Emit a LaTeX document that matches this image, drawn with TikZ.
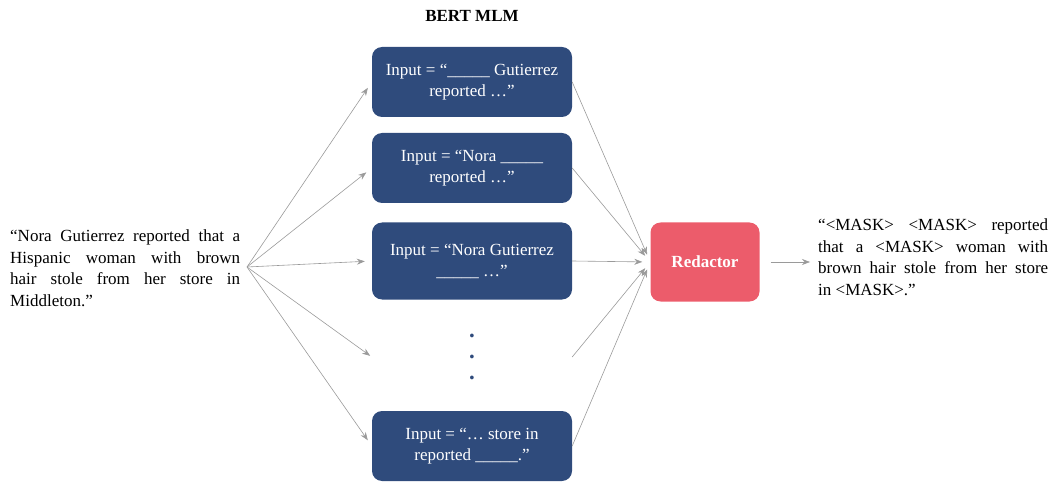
\documentclass[tikz,border=0pt]{standalone}
\usepackage{fontspec}
\setmainfont{Liberation Serif}
\usetikzlibrary{positioning,arrows.meta}

\definecolor{mlmblue}{HTML}{2F4B7C}
\definecolor{redpink}{HTML}{EC5C6B}
\definecolor{arrowgray}{HTML}{9A9A9A}

\begin{document}
\begin{tikzpicture}[x=1pt, y=-1pt,
  every node/.style={font=\fontsize{17}{21}\selectfont},
  mlm/.style={draw=none, fill=mlmblue, text=white, rounded corners=10pt, minimum width=200pt, minimum height=70pt, align=center},
  redbox/.style={draw=none, fill=redpink, text=white, rounded corners=10pt, minimum width=109pt, minimum height=79pt, font=\fontsize{17}{21}\selectfont\bfseries},
  para/.style={text width=230pt, align=justify, inner sep=0pt, font=\fontsize{17}{21.5}\selectfont},
  conn/.style={draw=arrowgray, line width=0.6pt, -{Stealth[length=8pt, width=6pt]}},
]
  \useasboundingbox (0,0) rectangle (1050,489);

  \node (title) at (472,16) {\bfseries BERT MLM};

  \node[para, anchor=west] (sent) at (10,268) {“Nora Gutierrez reported that a\linebreak Hispanic woman with brown\linebreak hair stole from her store in\linebreak Middleton.”};
  \coordinate (src) at (247,267);

  \node[mlm] (in1) at (472,82) {Input = “\_\_\_\_\_ Gutierrez\\reported …”};
  \node[mlm] (in2) at (472,168) {Input = “Nora \_\_\_\_\_\\reported …”};
  \node[mlm, minimum height=77pt] (in3) at (472,261) {Input = “Nora Gutierrez\\\_\_\_\_\_ …”};
  \node[minimum width=200pt, inner sep=0pt, align=center, text=mlmblue, font=\fontsize{23}{21}\selectfont\bfseries] (dots) at (472,357) {.\\.\\.};
  \node[mlm] (in4) at (472,446) {Input = “… store in\\reported \_\_\_\_\_.”};

  \node[redbox] (red) at (705,262) {Redactor};

  \node[para, anchor=west] (out) at (818,257) {“<MASK> <MASK> reported\linebreak that a <MASK> woman with\linebreak brown hair stole from her store\linebreak in <MASK>.”};

  % fan out to the masked inputs
  \foreach \n in {in1,in2,in3,in4}
    \draw[conn, shorten >=7pt] (src) -- (\n.west);
  \draw[conn, shorten >=2pt] (src) -- (dots.west);

  % collect into the redactor
  \foreach \n in {in1,in2,in3,in4,dots}
    \draw[conn, shorten >=8pt] (\n.east) -- (red.west);

  \draw[conn, shorten <=11pt, shorten >=8pt] (red.east) -- (out.west |- red.east);
\end{tikzpicture}
\end{document}
